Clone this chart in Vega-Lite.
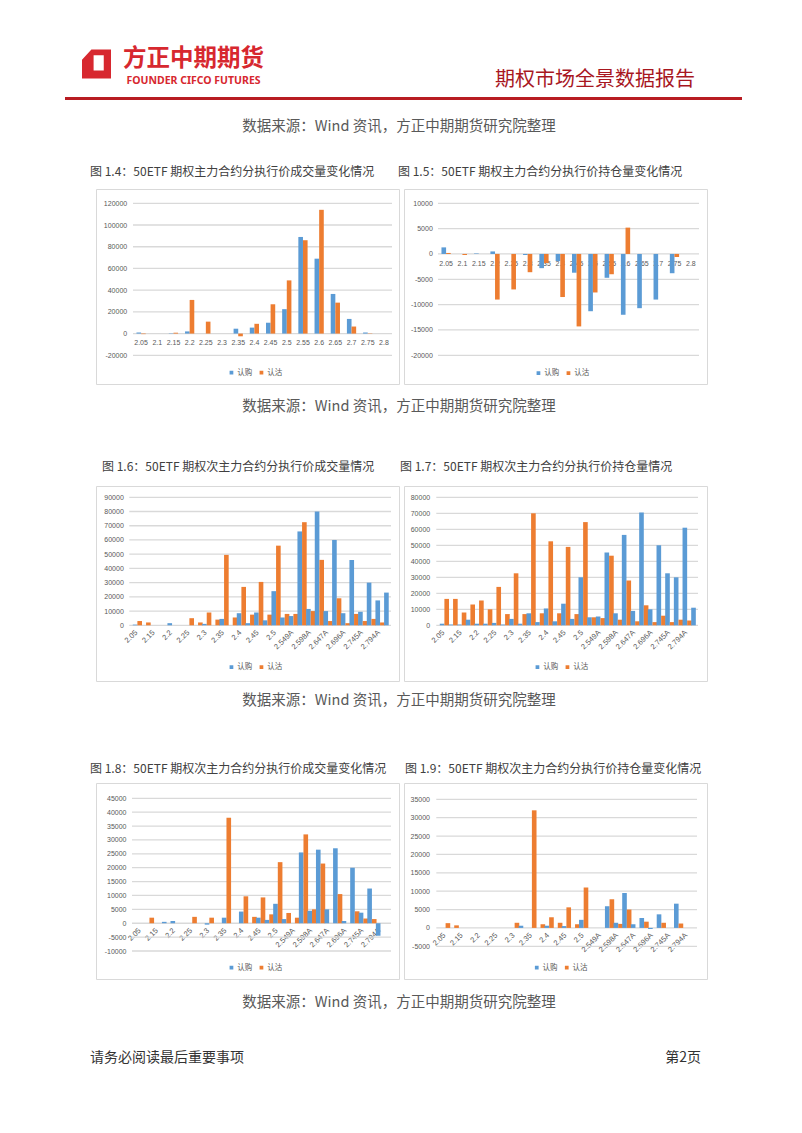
{
  "$schema": "https://vega.github.io/schema/vega-lite/v6.json",
  "background": "white",
  "padding": 0,
  "spacing": 0,
  "resolve": {"scale": {"color": "independent"}, "legend": {"color": "independent"}},
  "config": {
    "view": {"stroke": "#D9D9D9", "strokeWidth": 1},
    "font": "Noto Sans CJK SC",
    "axis": {"domain": false, "ticks": false, "tickSize": 0, "grid": false, "labelColor": "#595959", "labelFont": "Liberation Sans", "labelFontSize": 7, "labelOverlap": false, "labelFlush": false},
    "legend": {"orient": "none", "direction": "horizontal", "symbolType": "square", "symbolSize": 14, "labelFontSize": 7.5, "labelColor": "#595959", "labelFont": "Noto Sans CJK SC", "columnPadding": 5, "labelOffset": 2, "padding": 0}
  },
  "datasets": {
    "d14": [
      {"k":"2.05","s":"认购","v":1000},{"k":"2.05","s":"认沽","v":-500},
      {"k":"2.15","s":"认购","v":300},{"k":"2.15","s":"认沽","v":800},
      {"k":"2.2","s":"认购","v":2000},{"k":"2.2","s":"认沽","v":31000},
      {"k":"2.25","s":"认沽","v":11000},
      {"k":"2.35","s":"认购","v":4500},{"k":"2.35","s":"认沽","v":-2500},
      {"k":"2.4","s":"认购","v":5500},{"k":"2.4","s":"认沽","v":9000},
      {"k":"2.45","s":"认购","v":10000},{"k":"2.45","s":"认沽","v":27000},
      {"k":"2.5","s":"认购","v":22500},{"k":"2.5","s":"认沽","v":49000},
      {"k":"2.55","s":"认购","v":89000},{"k":"2.55","s":"认沽","v":86000},
      {"k":"2.6","s":"认购","v":69000},{"k":"2.6","s":"认沽","v":114000},
      {"k":"2.65","s":"认购","v":36500},{"k":"2.65","s":"认沽","v":28500},
      {"k":"2.7","s":"认购","v":13500},{"k":"2.7","s":"认沽","v":6500},
      {"k":"2.75","s":"认购","v":1000},{"k":"2.75","s":"认沽","v":300}
    ],
    "d15": [
      {"k":"2.05","s":"认购","v":1300},{"k":"2.05","s":"认沽","v":200},
      {"k":"2.1","s":"认沽","v":-200},
      {"k":"2.15","s":"认购","v":100},
      {"k":"2.2","s":"认购","v":500},{"k":"2.2","s":"认沽","v":-9000},
      {"k":"2.25","s":"认沽","v":-7000},
      {"k":"2.3","s":"认购","v":-200},{"k":"2.3","s":"认沽","v":-3600},
      {"k":"2.35","s":"认购","v":-2800},{"k":"2.35","s":"认沽","v":-1800},
      {"k":"2.4","s":"认购","v":-1400},{"k":"2.4","s":"认沽","v":-8500},
      {"k":"2.45","s":"认购","v":-3700},{"k":"2.45","s":"认沽","v":-14300},
      {"k":"2.5","s":"认购","v":-11300},{"k":"2.5","s":"认沽","v":-7600},
      {"k":"2.55","s":"认购","v":-4700},{"k":"2.55","s":"认沽","v":-4000},
      {"k":"2.6","s":"认购","v":-12000},{"k":"2.6","s":"认沽","v":5200},
      {"k":"2.65","s":"认购","v":-10700},
      {"k":"2.7","s":"认购","v":-9000},
      {"k":"2.75","s":"认购","v":-3800},{"k":"2.75","s":"认沽","v":-600}
    ],
    "d16": [
      {"k":"2.05","s":"认购","v":500},{"k":"2.05","s":"认沽","v":3000},
      {"k":"2.1","s":"认沽","v":2000},
      {"k":"2.2","s":"认购","v":1500},
      {"k":"2.25","s":"认沽","v":5000},
      {"k":"2.255A","s":"认沽","v":2000},
      {"k":"2.3","s":"认购","v":1000},{"k":"2.3","s":"认沽","v":9000},
      {"k":"2.304A","s":"认沽","v":4000},
      {"k":"2.35","s":"认购","v":4500},{"k":"2.35","s":"认沽","v":49500},
      {"k":"2.353A","s":"认沽","v":5500},
      {"k":"2.4","s":"认购","v":8500},{"k":"2.4","s":"认沽","v":27000},
      {"k":"2.402A","s":"认购","v":1500},{"k":"2.402A","s":"认沽","v":7500},
      {"k":"2.45","s":"认购","v":9000},{"k":"2.45","s":"认沽","v":30500},
      {"k":"2.451A","s":"认购","v":3500},{"k":"2.451A","s":"认沽","v":7500},
      {"k":"2.5","s":"认购","v":24000},{"k":"2.5","s":"认沽","v":56000},
      {"k":"2.55","s":"认购","v":5500},{"k":"2.55","s":"认沽","v":8000},
      {"k":"2.549A","s":"认购","v":6500},{"k":"2.549A","s":"认沽","v":8000},
      {"k":"2.6","s":"认购","v":66000},{"k":"2.6","s":"认沽","v":72500},
      {"k":"2.598A","s":"认购","v":11500},{"k":"2.598A","s":"认沽","v":10000},
      {"k":"2.65","s":"认购","v":80000},{"k":"2.65","s":"认沽","v":46000},
      {"k":"2.647A","s":"认购","v":10000},{"k":"2.647A","s":"认沽","v":3000},
      {"k":"2.7","s":"认购","v":60000},{"k":"2.7","s":"认沽","v":19000},
      {"k":"2.696A","s":"认购","v":8500},{"k":"2.696A","s":"认沽","v":1500},
      {"k":"2.75","s":"认购","v":46000},{"k":"2.75","s":"认沽","v":8000},
      {"k":"2.745A","s":"认购","v":9500},{"k":"2.745A","s":"认沽","v":3000},
      {"k":"2.8","s":"认购","v":30000},{"k":"2.8","s":"认沽","v":4500},
      {"k":"2.794A","s":"认购","v":17500},{"k":"2.794A","s":"认沽","v":2000},
      {"k":"2.85","s":"认购","v":23000}
    ],
    "d17": [
      {"k":"2.05","s":"认购","v":1000},{"k":"2.05","s":"认沽","v":16500},
      {"k":"2.1","s":"认购","v":500},{"k":"2.1","s":"认沽","v":16500},
      {"k":"2.15","s":"认购","v":500},{"k":"2.15","s":"认沽","v":8000},
      {"k":"2.157A","s":"认购","v":3500},{"k":"2.157A","s":"认沽","v":13000},
      {"k":"2.2","s":"认购","v":1000},{"k":"2.2","s":"认沽","v":15500},
      {"k":"2.206A","s":"认购","v":1000},{"k":"2.206A","s":"认沽","v":10000},
      {"k":"2.25","s":"认购","v":1500},{"k":"2.25","s":"认沽","v":24000},
      {"k":"2.255A","s":"认购","v":500},{"k":"2.255A","s":"认沽","v":7000},
      {"k":"2.3","s":"认购","v":4000},{"k":"2.3","s":"认沽","v":32500},
      {"k":"2.304A","s":"认购","v":1000},{"k":"2.304A","s":"认沽","v":7000},
      {"k":"2.35","s":"认购","v":7500},{"k":"2.35","s":"认沽","v":70000},
      {"k":"2.353A","s":"认购","v":2000},{"k":"2.353A","s":"认沽","v":7500},
      {"k":"2.4","s":"认购","v":10500},{"k":"2.4","s":"认沽","v":52500},
      {"k":"2.402A","s":"认购","v":2500},{"k":"2.402A","s":"认沽","v":7500},
      {"k":"2.45","s":"认购","v":13500},{"k":"2.45","s":"认沽","v":49000},
      {"k":"2.451A","s":"认购","v":4000},{"k":"2.451A","s":"认沽","v":7000},
      {"k":"2.5","s":"认购","v":30000},{"k":"2.5","s":"认沽","v":64500},
      {"k":"2.55","s":"认购","v":5000},{"k":"2.55","s":"认沽","v":5000},
      {"k":"2.549A","s":"认购","v":5500},{"k":"2.549A","s":"认沽","v":4500},
      {"k":"2.6","s":"认购","v":45500},{"k":"2.6","s":"认沽","v":43500},
      {"k":"2.598A","s":"认购","v":7500},{"k":"2.598A","s":"认沽","v":3500},
      {"k":"2.65","s":"认购","v":56500},{"k":"2.65","s":"认沽","v":28000},
      {"k":"2.647A","s":"认购","v":9000},{"k":"2.647A","s":"认沽","v":2500},
      {"k":"2.7","s":"认购","v":70500},{"k":"2.7","s":"认沽","v":12500},
      {"k":"2.696A","s":"认购","v":10000},{"k":"2.696A","s":"认沽","v":2000},
      {"k":"2.75","s":"认购","v":50000},{"k":"2.75","s":"认沽","v":6000},
      {"k":"2.745A","s":"认购","v":32500},{"k":"2.745A","s":"认沽","v":2000},
      {"k":"2.8","s":"认购","v":30000},{"k":"2.8","s":"认沽","v":3500},
      {"k":"2.794A","s":"认购","v":61000},{"k":"2.794A","s":"认沽","v":3000},
      {"k":"2.85","s":"认购","v":11000}
    ],
    "d18": [
      {"k":"2.1","s":"认沽","v":2000},
      {"k":"2.157A","s":"认购","v":500},
      {"k":"2.2","s":"认购","v":800},
      {"k":"2.25","s":"认沽","v":2300},
      {"k":"2.3","s":"认购","v":-500},{"k":"2.3","s":"认沽","v":2000},
      {"k":"2.35","s":"认购","v":2000},{"k":"2.35","s":"认沽","v":38000},
      {"k":"2.4","s":"认购","v":4200},{"k":"2.4","s":"认沽","v":9700},
      {"k":"2.402A","s":"认沽","v":2300},
      {"k":"2.45","s":"认购","v":2000},{"k":"2.45","s":"认沽","v":9300},
      {"k":"2.451A","s":"认购","v":1200},{"k":"2.451A","s":"认沽","v":3200},
      {"k":"2.5","s":"认购","v":7000},{"k":"2.5","s":"认沽","v":22000},
      {"k":"2.55","s":"认购","v":1500},{"k":"2.55","s":"认沽","v":3700},
      {"k":"2.549A","s":"认沽","v":2000},
      {"k":"2.6","s":"认购","v":25500},{"k":"2.6","s":"认沽","v":32000},
      {"k":"2.598A","s":"认购","v":4500},{"k":"2.598A","s":"认沽","v":5000},
      {"k":"2.65","s":"认购","v":26500},{"k":"2.65","s":"认沽","v":21500},
      {"k":"2.647A","s":"认购","v":5000},
      {"k":"2.7","s":"认购","v":27000},{"k":"2.7","s":"认沽","v":10500},
      {"k":"2.696A","s":"认购","v":800},
      {"k":"2.75","s":"认购","v":20000},{"k":"2.75","s":"认沽","v":4300},
      {"k":"2.745A","s":"认购","v":3800},{"k":"2.745A","s":"认沽","v":1700},
      {"k":"2.8","s":"认购","v":12500},{"k":"2.8","s":"认沽","v":1500},
      {"k":"2.794A","s":"认购","v":-4500}
    ],
    "d19": [
      {"k":"2.05","s":"认沽","v":1300},
      {"k":"2.1","s":"认沽","v":700},
      {"k":"2.3","s":"认沽","v":1400},
      {"k":"2.304A","s":"认购","v":600},
      {"k":"2.35","s":"认沽","v":32000},
      {"k":"2.353A","s":"认沽","v":1000},
      {"k":"2.4","s":"认购","v":600},{"k":"2.4","s":"认沽","v":2900},
      {"k":"2.402A","s":"认沽","v":1400},
      {"k":"2.45","s":"认购","v":500},{"k":"2.45","s":"认沽","v":5600},
      {"k":"2.451A","s":"认沽","v":1000},
      {"k":"2.5","s":"认购","v":2200},{"k":"2.5","s":"认沽","v":11000},
      {"k":"2.6","s":"认购","v":5900},{"k":"2.6","s":"认沽","v":7800},
      {"k":"2.598A","s":"认购","v":1400},{"k":"2.598A","s":"认沽","v":1100},
      {"k":"2.65","s":"认购","v":9500},{"k":"2.65","s":"认沽","v":5000},
      {"k":"2.647A","s":"认购","v":1000},
      {"k":"2.7","s":"认购","v":2700},{"k":"2.7","s":"认沽","v":1700},
      {"k":"2.696A","s":"认购","v":-300},
      {"k":"2.75","s":"认购","v":3700},{"k":"2.75","s":"认沽","v":1400},
      {"k":"2.8","s":"认购","v":6600},{"k":"2.8","s":"认沽","v":1200}
    ]
  },
  "vconcat": [
    {
      "width": 802, "height": 188, "view": {"stroke": null},
      "data": {"values": [{}]},
      "layer": [
        {"mark": {"type": "point", "shape": "M -0.35 -1 L 1 -1 L 1 1 L -1 1 L -1 -0.3 Z M -0.2 -0.6 L -0.2 0.45 L 0.5 0.45 L 0.5 -0.6 Z", "filled": true, "color": "#D7282F", "opacity": 1, "size": 841, "strokeWidth": 0},
         "encoding": {"x": {"datum": 96.5, "type": "quantitative", "scale": {"domain": [0, 802], "nice": false}, "axis": null},
                      "y": {"datum": 64, "type": "quantitative", "scale": {"domain": [0, 188], "nice": false, "reverse": true}, "axis": null}}},
        {"mark": {"type": "text", "text": "方正中期期货", "font": "Noto Sans CJK SC", "fontWeight": "bold", "fontSize": 23.5, "color": "#D7282F", "align": "center", "baseline": "middle"},
         "encoding": {"x": {"datum": 193.5, "type": "quantitative", "scale": {"domain": [0, 802], "nice": false}, "axis": null},
                      "y": {"datum": 59, "type": "quantitative", "scale": {"domain": [0, 188], "nice": false, "reverse": true}, "axis": null}}},
        {"mark": {"type": "text", "text": "FOUNDER CIFCO FUTURES", "font": "Noto Sans", "fontWeight": "bold", "fontSize": 10.5, "color": "#D7282F", "align": "center", "baseline": "middle"},
         "encoding": {"x": {"datum": 193.5, "type": "quantitative", "scale": {"domain": [0, 802], "nice": false}, "axis": null},
                      "y": {"datum": 80.5, "type": "quantitative", "scale": {"domain": [0, 188], "nice": false, "reverse": true}, "axis": null}}},
        {"mark": {"type": "text", "text": "期权市场全景数据报告", "font": "Noto Sans CJK SC", "fontSize": 20, "color": "#A8171F", "align": "left", "baseline": "middle"},
         "encoding": {"x": {"datum": 495, "type": "quantitative", "scale": {"domain": [0, 802], "nice": false}, "axis": null},
                      "y": {"datum": 80, "type": "quantitative", "scale": {"domain": [0, 188], "nice": false, "reverse": true}, "axis": null}}},
        {"mark": {"type": "rule", "color": "#B81C22", "strokeWidth": 3},
         "encoding": {"x": {"datum": 65, "type": "quantitative", "scale": {"domain": [0, 802], "nice": false}, "axis": null},
                      "x2": {"datum": 742},
                      "y": {"datum": 98.5, "type": "quantitative", "scale": {"domain": [0, 188], "nice": false, "reverse": true}, "axis": null}}},
        {"mark": {"type": "text", "text": "数据来源：Wind 资讯，方正中期期货研究院整理", "font": "Noto Sans CJK SC", "fontSize": 14.5, "color": "#595959", "align": "center", "baseline": "middle"},
         "encoding": {"x": {"datum": 399, "type": "quantitative", "scale": {"domain": [0, 802], "nice": false}, "axis": null},
                      "y": {"datum": 127, "type": "quantitative", "scale": {"domain": [0, 188], "nice": false, "reverse": true}, "axis": null}}},
        {"mark": {"type": "text", "text": "图 1.4：50ETF 期权主力合约分执行价成交量变化情况", "font": "Noto Sans CJK SC", "fontSize": 12, "color": "#404040", "align": "left", "baseline": "middle"},
         "encoding": {"x": {"datum": 90, "type": "quantitative", "scale": {"domain": [0, 802], "nice": false}, "axis": null},
                      "y": {"datum": 172, "type": "quantitative", "scale": {"domain": [0, 188], "nice": false, "reverse": true}, "axis": null}}},
        {"mark": {"type": "text", "text": "图 1.5：50ETF 期权主力合约分执行价持仓量变化情况", "font": "Noto Sans CJK SC", "fontSize": 12, "color": "#404040", "align": "left", "baseline": "middle"},
         "encoding": {"x": {"datum": 398, "type": "quantitative", "scale": {"domain": [0, 802], "nice": false}, "axis": null},
                      "y": {"datum": 172, "type": "quantitative", "scale": {"domain": [0, 188], "nice": false, "reverse": true}, "axis": null}}}
      ]
    },
    {
      "resolve": {"scale": {"color": "independent"}, "legend": {"color": "independent"}},
      "hconcat": [
        {"width": 92, "height": 195, "view": {"stroke": null}, "data": {"values": []}, "mark": "point"},
        {
          "width": 303, "height": 195,
          "resolve": {"scale": {"x": "independent"}},
          "layer": [
            {"data": {"values": [{"g":-20000},{"g":0},{"g":20000},{"g":40000},{"g":60000},{"g":80000},{"g":100000},{"g":120000}]},
             "mark": {"type": "rule", "color": "#D9D9D9", "strokeWidth": 1.3},
             "encoding": {
               "y": {"field": "g", "type": "quantitative", "scale": {"domain": [-20000, 120000], "nice": false, "range": [166.3, 14.3]},
                     "axis": {"title": null, "orient": "left", "offset": -30.7, "labelPadding": 0, "values": [-20000,0,20000,40000,60000,80000,100000,120000], "labelExpr": "'' + datum.value"}},
               "x": {"datum": 0, "type": "quantitative", "scale": {"domain": [0, 1], "nice": false, "range": [37, 296]}, "axis": null},
               "x2": {"datum": 1}
             }},
            {"data": {"name": "d14"},
             "mark": {"type": "bar"},
             "encoding": {
               "x": {"field": "k", "type": "nominal", "sort": null,
                     "scale": {"domain": ["2.05","2.1","2.15","2.2","2.25","2.3","2.35","2.4","2.45","2.5","2.55","2.6","2.65","2.7","2.75","2.8"], "range": [37, 296], "paddingInner": 0, "paddingOuter": 0},
                     "axis": {"title": null, "orient": "bottom", "offset": -50.4, "labelAngle": 0, "labelPadding": 5}},
               "xOffset": {"field": "s", "type": "nominal", "sort": null, "scale": {"domain": ["认购","认沽"], "paddingOuter": 0.75, "paddingInner": 0}},
               "y": {"field": "v", "type": "quantitative", "scale": {"domain": [-20000, 120000], "nice": false, "range": [166.3, 14.3]},
                     "axis": {"title": null, "orient": "left", "offset": -30.7, "labelPadding": 0, "values": [-20000,0,20000,40000,60000,80000,100000,120000], "labelExpr": "'' + datum.value"}},
               "color": {"field": "s", "type": "nominal", "sort": null, "scale": {"domain": ["认购","认沽"], "range": ["#5B9BD5","#ED7D31"]},
                         "legend": {"title": null, "legendX": 131.7, "legendY": 179.5}}
             }}
          ]
        },
        {
          "width": 303, "height": 195,
          "resolve": {"scale": {"x": "independent"}},
          "layer": [
            {"data": {"values": [{"g":-20000},{"g":-15000},{"g":-10000},{"g":-5000},{"g":0},{"g":5000},{"g":10000}]},
             "mark": {"type": "rule", "color": "#D9D9D9", "strokeWidth": 1.3},
             "encoding": {
               "y": {"field": "g", "type": "quantitative", "scale": {"domain": [-20000, 10000], "nice": false, "range": [166.3, 14.3]},
                     "axis": {"title": null, "orient": "left", "offset": -28.3, "labelPadding": 0, "values": [-20000,-15000,-10000,-5000,0,5000,10000], "labelExpr": "'' + datum.value"}},
               "x": {"datum": 0, "type": "quantitative", "scale": {"domain": [0, 1], "nice": false, "range": [34, 295]}, "axis": null},
               "x2": {"datum": 1}
             }},
            {"data": {"name": "d15"},
             "mark": {"type": "bar"},
             "encoding": {
               "x": {"field": "k", "type": "nominal", "sort": null,
                     "scale": {"domain": ["2.05","2.1","2.15","2.2","2.25","2.3","2.35","2.4","2.45","2.5","2.55","2.6","2.65","2.7","2.75","2.8"], "range": [34, 295], "paddingInner": 0, "paddingOuter": 0},
                     "axis": {"title": null, "orient": "bottom", "offset": -130.3, "labelAngle": 0, "labelPadding": 6}},
               "xOffset": {"field": "s", "type": "nominal", "sort": null, "scale": {"domain": ["认购","认沽"], "paddingOuter": 0.75, "paddingInner": 0}},
               "y": {"field": "v", "type": "quantitative", "scale": {"domain": [-20000, 10000], "nice": false, "range": [166.3, 14.3]},
                     "axis": {"title": null, "orient": "left", "offset": -28.3, "labelPadding": 0, "values": [-20000,-15000,-10000,-5000,0,5000,10000], "labelExpr": "'' + datum.value"}},
               "color": {"field": "s", "type": "nominal", "sort": null, "scale": {"domain": ["认购","认沽"], "range": ["#5B9BD5","#ED7D31"]},
                         "legend": {"title": null, "legendX": 130.7, "legendY": 180}}
             }}
          ]
        }
      ],
      "spacing": 3
    },
    {
      "width": 802, "height": 100, "view": {"stroke": null},
      "data": {"values": [{}]},
      "layer": [
        {"mark": {"type": "text", "text": "数据来源：Wind 资讯，方正中期期货研究院整理", "font": "Noto Sans CJK SC", "fontSize": 14.5, "color": "#595959", "align": "center", "baseline": "middle"},
         "encoding": {"x": {"datum": 399, "type": "quantitative", "scale": {"domain": [0, 802], "nice": false}, "axis": null},
                      "y": {"datum": 22, "type": "quantitative", "scale": {"domain": [0, 100], "nice": false, "reverse": true}, "axis": null}}},
        {"mark": {"type": "text", "text": "图 1.6：50ETF 期权次主力合约分执行价成交量情况", "font": "Noto Sans CJK SC", "fontSize": 12, "color": "#404040", "align": "left", "baseline": "middle"},
         "encoding": {"x": {"datum": 102, "type": "quantitative", "scale": {"domain": [0, 802], "nice": false}, "axis": null},
                      "y": {"datum": 82, "type": "quantitative", "scale": {"domain": [0, 100], "nice": false, "reverse": true}, "axis": null}}},
        {"mark": {"type": "text", "text": "图 1.7：50ETF 期权次主力合约分执行价持仓量情况", "font": "Noto Sans CJK SC", "fontSize": 12, "color": "#404040", "align": "left", "baseline": "middle"},
         "encoding": {"x": {"datum": 400, "type": "quantitative", "scale": {"domain": [0, 802], "nice": false}, "axis": null},
                      "y": {"datum": 82, "type": "quantitative", "scale": {"domain": [0, 100], "nice": false, "reverse": true}, "axis": null}}}
      ]
    },
    {
      "resolve": {"scale": {"color": "independent"}, "legend": {"color": "independent"}},
      "hconcat": [
        {"width": 92, "height": 195, "view": {"stroke": null}, "data": {"values": []}, "mark": "point"},
        {
          "width": 303, "height": 195,
          "resolve": {"scale": {"x": "independent"}},
          "layer": [
            {"data": {"values": [{"g":0},{"g":10000},{"g":20000},{"g":30000},{"g":40000},{"g":50000},{"g":60000},{"g":70000},{"g":80000},{"g":90000}]},
             "mark": {"type": "rule", "color": "#D9D9D9", "strokeWidth": 1.3},
             "encoding": {
               "y": {"field": "g", "type": "quantitative", "scale": {"domain": [0, 90000], "nice": false, "range": [139.3, 11.3]},
                     "axis": {"title": null, "orient": "left", "offset": -27.3, "labelPadding": 0, "values": [0,10000,20000,30000,40000,50000,60000,70000,80000,90000], "labelExpr": "'' + datum.value"}},
               "x": {"datum": 0, "type": "quantitative", "scale": {"domain": [0, 1], "nice": false, "range": [33.3, 295]}, "axis": null},
               "x2": {"datum": 1}
             }},
            {"data": {"name": "d16"},
             "mark": {"type": "bar"},
             "encoding": {
               "x": {"field": "k", "type": "nominal", "sort": null,
                     "scale": {"domain": ["2.05","2.1","2.15","2.157A","2.2","2.206A","2.25","2.255A","2.3","2.304A","2.35","2.353A","2.4","2.402A","2.45","2.451A","2.5","2.55","2.549A","2.6","2.598A","2.65","2.647A","2.7","2.696A","2.75","2.745A","2.8","2.794A","2.85"], "range": [33.3, 293.3], "paddingInner": 0, "paddingOuter": 0},
                     "axis": {"title": null, "orient": "bottom", "offset": -55.7, "labelAngle": -45, "labelPadding": 3, "labelFontSize": 7.5, "values": ["2.05","2.15","2.2","2.25","2.3","2.35","2.4","2.45","2.5","2.549A","2.598A","2.647A","2.696A","2.745A","2.794A"]}},
               "xOffset": {"field": "s", "type": "nominal", "sort": null, "scale": {"domain": ["认购","认沽"], "paddingOuter": 0.87, "paddingInner": 0}},
               "y": {"field": "v", "type": "quantitative", "scale": {"domain": [0, 90000], "nice": false, "range": [139.3, 11.3]},
                     "axis": {"title": null, "orient": "left", "offset": -27.3, "labelPadding": 0, "values": [0,10000,20000,30000,40000,50000,60000,70000,80000,90000], "labelExpr": "'' + datum.value"}},
               "color": {"field": "s", "type": "nominal", "sort": null, "scale": {"domain": ["认购","认沽"], "range": ["#5B9BD5","#ED7D31"]},
                         "legend": {"title": null, "legendX": 131.7, "legendY": 177}}
             }}
          ]
        },
        {
          "width": 303, "height": 195,
          "resolve": {"scale": {"x": "independent"}},
          "layer": [
            {"data": {"values": [{"g":0},{"g":10000},{"g":20000},{"g":30000},{"g":40000},{"g":50000},{"g":60000},{"g":70000},{"g":80000}]},
             "mark": {"type": "rule", "color": "#D9D9D9", "strokeWidth": 1.3},
             "encoding": {
               "y": {"field": "g", "type": "quantitative", "scale": {"domain": [0, 80000], "nice": false, "range": [139.3, 11.3]},
                     "axis": {"title": null, "orient": "left", "offset": -25.7, "labelPadding": 0, "values": [0,10000,20000,30000,40000,50000,60000,70000,80000], "labelExpr": "'' + datum.value"}},
               "x": {"datum": 0, "type": "quantitative", "scale": {"domain": [0, 1], "nice": false, "range": [32.3, 294]}, "axis": null},
               "x2": {"datum": 1}
             }},
            {"data": {"name": "d17"},
             "mark": {"type": "bar"},
             "encoding": {
               "x": {"field": "k", "type": "nominal", "sort": null,
                     "scale": {"domain": ["2.05","2.1","2.15","2.157A","2.2","2.206A","2.25","2.255A","2.3","2.304A","2.35","2.353A","2.4","2.402A","2.45","2.451A","2.5","2.55","2.549A","2.6","2.598A","2.65","2.647A","2.7","2.696A","2.75","2.745A","2.8","2.794A","2.85"], "range": [32.3, 292.4], "paddingInner": 0, "paddingOuter": 0},
                     "axis": {"title": null, "orient": "bottom", "offset": -55.7, "labelAngle": -45, "labelPadding": 3, "labelFontSize": 7.5, "values": ["2.05","2.15","2.2","2.25","2.3","2.35","2.4","2.45","2.5","2.549A","2.598A","2.647A","2.696A","2.745A","2.794A"]}},
               "xOffset": {"field": "s", "type": "nominal", "sort": null, "scale": {"domain": ["认购","认沽"], "paddingOuter": 0.87, "paddingInner": 0}},
               "y": {"field": "v", "type": "quantitative", "scale": {"domain": [0, 80000], "nice": false, "range": [139.3, 11.3]},
                     "axis": {"title": null, "orient": "left", "offset": -25.7, "labelPadding": 0, "values": [0,10000,20000,30000,40000,50000,60000,70000,80000], "labelExpr": "'' + datum.value"}},
               "color": {"field": "s", "type": "nominal", "sort": null, "scale": {"domain": ["认购","认沽"], "range": ["#5B9BD5","#ED7D31"]},
                         "legend": {"title": null, "legendX": 129.7, "legendY": 177}}
             }}
          ]
        }
      ],
      "spacing": 3
    },
    {
      "width": 802, "height": 100, "view": {"stroke": null},
      "data": {"values": [{}]},
      "layer": [
        {"mark": {"type": "text", "text": "数据来源：Wind 资讯，方正中期期货研究院整理", "font": "Noto Sans CJK SC", "fontSize": 14.5, "color": "#595959", "align": "center", "baseline": "middle"},
         "encoding": {"x": {"datum": 399, "type": "quantitative", "scale": {"domain": [0, 802], "nice": false}, "axis": null},
                      "y": {"datum": 19, "type": "quantitative", "scale": {"domain": [0, 100], "nice": false, "reverse": true}, "axis": null}}},
        {"mark": {"type": "text", "text": "图 1.8：50ETF 期权次主力合约分执行价成交量变化情况", "font": "Noto Sans CJK SC", "fontSize": 12, "color": "#404040", "align": "left", "baseline": "middle"},
         "encoding": {"x": {"datum": 90, "type": "quantitative", "scale": {"domain": [0, 802], "nice": false}, "axis": null},
                      "y": {"datum": 87, "type": "quantitative", "scale": {"domain": [0, 100], "nice": false, "reverse": true}, "axis": null}}},
        {"mark": {"type": "text", "text": "图 1.9：50ETF 期权次主力合约分执行价持仓量变化情况", "font": "Noto Sans CJK SC", "fontSize": 12, "color": "#404040", "align": "left", "baseline": "middle"},
         "encoding": {"x": {"datum": 405, "type": "quantitative", "scale": {"domain": [0, 802], "nice": false}, "axis": null},
                      "y": {"datum": 87, "type": "quantitative", "scale": {"domain": [0, 100], "nice": false, "reverse": true}, "axis": null}}}
      ]
    },
    {
      "resolve": {"scale": {"color": "independent"}, "legend": {"color": "independent"}},
      "hconcat": [
        {"width": 92, "height": 196, "view": {"stroke": null}, "data": {"values": []}, "mark": "point"},
        {
          "width": 303, "height": 196,
          "resolve": {"scale": {"x": "independent"}},
          "layer": [
            {"data": {"values": [{"g":-10000},{"g":-5000},{"g":0},{"g":5000},{"g":10000},{"g":15000},{"g":20000},{"g":25000},{"g":30000},{"g":35000},{"g":40000},{"g":45000}]},
             "mark": {"type": "rule", "color": "#D9D9D9", "strokeWidth": 1.3},
             "encoding": {
               "y": {"field": "g", "type": "quantitative", "scale": {"domain": [-10000, 45000], "nice": false, "range": [168, 15.3]},
                     "axis": {"title": null, "orient": "left", "offset": -30, "labelPadding": 0, "values": [-10000,-5000,0,5000,10000,15000,20000,25000,30000,35000,40000,45000], "labelExpr": "'' + datum.value"}},
               "x": {"datum": 0, "type": "quantitative", "scale": {"domain": [0, 1], "nice": false, "range": [36, 295]}, "axis": null},
               "x2": {"datum": 1}
             }},
            {"data": {"name": "d18"},
             "mark": {"type": "bar"},
             "encoding": {
               "x": {"field": "k", "type": "nominal", "sort": null,
                     "scale": {"domain": ["2.05","2.1","2.15","2.157A","2.2","2.206A","2.25","2.255A","2.3","2.304A","2.35","2.353A","2.4","2.402A","2.45","2.451A","2.5","2.55","2.549A","2.6","2.598A","2.65","2.647A","2.7","2.696A","2.75","2.745A","2.8","2.794A","2.85"], "range": [36.8, 293.5], "paddingInner": 0, "paddingOuter": 0},
                     "axis": {"title": null, "orient": "bottom", "offset": -55.7, "labelAngle": -45, "labelPadding": 3, "labelFontSize": 7.5, "values": ["2.05","2.15","2.2","2.25","2.3","2.35","2.4","2.45","2.5","2.549A","2.598A","2.647A","2.696A","2.745A","2.794A"]}},
               "xOffset": {"field": "s", "type": "nominal", "sort": null, "scale": {"domain": ["认购","认沽"], "paddingOuter": 0.87, "paddingInner": 0}},
               "y": {"field": "v", "type": "quantitative", "scale": {"domain": [-10000, 45000], "nice": false, "range": [168, 15.3]},
                     "axis": {"title": null, "orient": "left", "offset": -30, "labelPadding": 0, "values": [-10000,-5000,0,5000,10000,15000,20000,25000,30000,35000,40000,45000], "labelExpr": "'' + datum.value"}},
               "color": {"field": "s", "type": "nominal", "sort": null, "scale": {"domain": ["认购","认沽"], "range": ["#5B9BD5","#ED7D31"]},
                         "legend": {"title": null, "legendX": 131.7, "legendY": 180.5}}
             }}
          ]
        },
        {
          "width": 303, "height": 196,
          "resolve": {"scale": {"x": "independent"}},
          "layer": [
            {"data": {"values": [{"g":-5000},{"g":0},{"g":5000},{"g":10000},{"g":15000},{"g":20000},{"g":25000},{"g":30000},{"g":35000}]},
             "mark": {"type": "rule", "color": "#D9D9D9", "strokeWidth": 1.3},
             "encoding": {
               "y": {"field": "g", "type": "quantitative", "scale": {"domain": [-5000, 35000], "nice": false, "range": [163.3, 16.3]},
                     "axis": {"title": null, "orient": "left", "offset": -25.5, "labelPadding": 0, "values": [-5000,0,5000,10000,15000,20000,25000,30000,35000], "labelExpr": "'' + datum.value"}},
               "x": {"datum": 0, "type": "quantitative", "scale": {"domain": [0, 1], "nice": false, "range": [32.3, 293]}, "axis": null},
               "x2": {"datum": 1}
             }},
            {"data": {"name": "d19"},
             "mark": {"type": "bar"},
             "encoding": {
               "x": {"field": "k", "type": "nominal", "sort": null,
                     "scale": {"domain": ["2.05","2.1","2.15","2.157A","2.2","2.206A","2.25","2.255A","2.3","2.304A","2.35","2.353A","2.4","2.402A","2.45","2.451A","2.5","2.55","2.549A","2.6","2.598A","2.65","2.647A","2.7","2.696A","2.75","2.745A","2.8","2.794A","2.85"], "range": [33.5, 292.4], "paddingInner": 0, "paddingOuter": 0},
                     "axis": {"title": null, "orient": "bottom", "offset": -51, "labelAngle": -45, "labelPadding": 3, "labelFontSize": 7.5, "values": ["2.05","2.15","2.2","2.25","2.3","2.35","2.4","2.45","2.5","2.549A","2.598A","2.647A","2.696A","2.745A","2.794A"]}},
               "xOffset": {"field": "s", "type": "nominal", "sort": null, "scale": {"domain": ["认购","认沽"], "paddingOuter": 0.87, "paddingInner": 0}},
               "y": {"field": "v", "type": "quantitative", "scale": {"domain": [-5000, 35000], "nice": false, "range": [163.3, 16.3]},
                     "axis": {"title": null, "orient": "left", "offset": -25.5, "labelPadding": 0, "values": [-5000,0,5000,10000,15000,20000,25000,30000,35000], "labelExpr": "'' + datum.value"}},
               "color": {"field": "s", "type": "nominal", "sort": null, "scale": {"domain": ["认购","认沽"], "range": ["#5B9BD5","#ED7D31"]},
                         "legend": {"title": null, "legendX": 129, "legendY": 180.5}}
             }}
          ]
        }
      ],
      "spacing": 3
    },
    {
      "width": 802, "height": 159, "view": {"stroke": null},
      "data": {"values": [{}]},
      "layer": [
        {"mark": {"type": "text", "text": "数据来源：Wind 资讯，方正中期期货研究院整理", "font": "Noto Sans CJK SC", "fontSize": 14.5, "color": "#595959", "align": "center", "baseline": "middle"},
         "encoding": {"x": {"datum": 399, "type": "quantitative", "scale": {"domain": [0, 802], "nice": false}, "axis": null},
                      "y": {"datum": 23, "type": "quantitative", "scale": {"domain": [0, 159], "nice": false, "reverse": true}, "axis": null}}},
        {"mark": {"type": "text", "text": "请务必阅读最后重要事项", "font": "Noto Sans CJK SC", "fontSize": 14, "color": "#333333", "align": "left", "baseline": "middle"},
         "encoding": {"x": {"datum": 90, "type": "quantitative", "scale": {"domain": [0, 802], "nice": false}, "axis": null},
                      "y": {"datum": 78, "type": "quantitative", "scale": {"domain": [0, 159], "nice": false, "reverse": true}, "axis": null}}},
        {"mark": {"type": "text", "text": "第2页", "font": "Noto Sans CJK SC", "fontSize": 14, "color": "#333333", "align": "right", "baseline": "middle"},
         "encoding": {"x": {"datum": 701, "type": "quantitative", "scale": {"domain": [0, 802], "nice": false}, "axis": null},
                      "y": {"datum": 78, "type": "quantitative", "scale": {"domain": [0, 159], "nice": false, "reverse": true}, "axis": null}}}
      ]
    }
  ]
}
